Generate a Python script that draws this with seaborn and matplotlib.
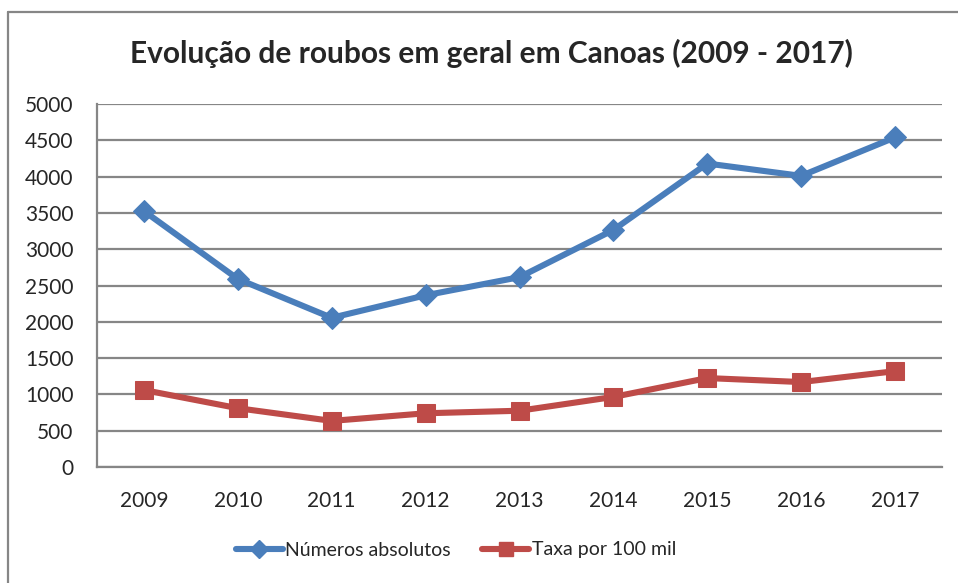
import numpy as np
import pandas as pd
import seaborn as sns
import matplotlib.pyplot as plt
from matplotlib.lines import Line2D

# valores
anos = ["2009", "2010", "2011", "2012", "2013", "2014", "2015", "2016", "2017"]
absolutos = [3525, 2590, 2055, 2365, 2615, 3265, 4180, 4010, 4540]
taxa = [1060, 810, 635, 740, 775, 965, 1225, 1170, 1320]

dataset = pd.DataFrame({"ano": anos, "Números absolutos": absolutos, "Taxa por 100 mil": taxa})

sns.set_style("white")
plt.rcParams['font.family'] = ['Lato', 'DejaVu Sans']

azul = "#4A7EBB"
vermelho = "#BE4B48"
cinza = "#868686"

fig = plt.figure(figsize=(9.58, 5.83), dpi=100)
ax = fig.add_axes([97/958, 1 - 467/583, (942-97)/958, (467-104)/583])

x = np.arange(len(anos))
sns.lineplot(x=x, y=dataset["Números absolutos"], ax=ax, color=azul, lw=4.4,
             marker="D", markersize=11, markeredgecolor=azul, label="Números absolutos")
sns.lineplot(x=x, y=dataset["Taxa por 100 mil"], ax=ax, color=vermelho, lw=4.4,
             marker="s", markersize=13, markeredgecolor=vermelho, label="Taxa por 100 mil")

ax.set_xlim(-0.5, len(anos) - 0.5)
ax.set_ylim(0, 5000)
ax.set_yticks(range(0, 5001, 500))
ax.set_xticks(x)
ax.set_xticklabels(anos)
ax.set_xticks(np.arange(-0.5, len(anos), 1), minor=True)
ax.tick_params(axis="x", which="major", length=0, labelsize=15, pad=17)
ax.tick_params(axis="x", which="minor", length=7, width=1.6, color=cinza, direction="out")
ax.tick_params(axis="y", length=7, width=1.6, color=cinza, labelsize=15, pad=10)
ax.grid(axis="y", color=cinza, lw=1.6)
ax.set_axisbelow(True)
ax.set_xlabel("")
ax.set_ylabel("")
for s in ["top", "right"]:
    ax.spines[s].set_visible(False)
for s in ["left", "bottom"]:
    ax.spines[s].set_color(cinza)
    ax.spines[s].set_linewidth(1.6)

ax.legend_.remove()
handles = [Line2D([], [], color=azul, lw=4.4, marker="D", markersize=9, markeredgecolor=azul),
           Line2D([], [], color=vermelho, lw=4.4, marker="s", markersize=10, markeredgecolor=vermelho)]
fig.legend(handles, ["Números absolutos", "Taxa por 100 mil"], loc="center",
           bbox_to_anchor=(456/958, 1 - 550/583), ncol=2, frameon=False, fontsize=14,
           handlelength=2.4, handletextpad=0.15, columnspacing=1.6)

fig.text(491/958, 1 - 53/583, "Evolução de roubos em geral em Canoas (2009 - 2017)",
         ha="center", va="center", fontsize=21.5, fontweight="bold")

# moldura externa
fig.add_artist(plt.Line2D([8/958, 8/958], [0, 1 - 12/583], color=cinza, lw=1.6, transform=fig.transFigure))
fig.add_artist(plt.Line2D([8/958, 1], [1 - 12/583, 1 - 12/583], color=cinza, lw=1.6, transform=fig.transFigure))

plt.savefig("out.png", dpi=100)
